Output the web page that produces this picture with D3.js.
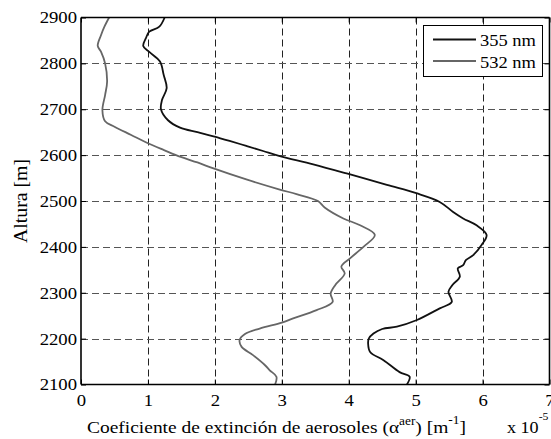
<!DOCTYPE html>
<html>
<head>
<meta charset="utf-8">
<script src="https://cdn.jsdelivr.net/npm/d3@7"></script>
<style>
  html, body { margin: 0; padding: 0; background: #fff; }
  svg { display: block; }
</style>
</head>
<body>
<svg id="chart" width="551" height="439"></svg>
<script>
// ---- Data ----
const seriesNames = ["355 nm", "532 nm"];
const xTicks = [0, 1, 2, 3, 4, 5, 6, 7];
const yTicks = [2100, 2200, 2300, 2400, 2500, 2600, 2700, 2800, 2900];

const alt355 = [2900, 2880, 2869, 2855, 2838, 2825, 2804, 2775, 2746, 2720, 2700, 2676, 2660, 2650, 2641, 2631, 2620, 2609, 2598, 2580, 2560, 2535, 2517, 2498, 2476, 2462, 2447, 2426, 2404, 2382, 2371, 2360, 2353, 2335, 2317, 2302, 2280, 2266, 2240, 2226, 2221, 2211, 2200, 2189, 2171, 2153, 2127, 2117, 2100];
const ext355 = [1.25, 1.17, 1.02, 0.97, 0.93, 1.02, 1.18, 1.235, 1.28, 1.21, 1.195, 1.30, 1.48, 1.74, 1.98, 2.22, 2.47, 2.72, 2.97, 3.47, 3.97, 4.57, 5.01, 5.36, 5.56, 5.71, 5.91, 6.06, 5.985, 5.86, 5.75, 5.71, 5.63, 5.66, 5.55, 5.49, 5.54, 5.36, 5.01, 4.72, 4.50, 4.37, 4.30, 4.29, 4.32, 4.52, 4.76, 4.91, 4.87];

const alt532 = [2900, 2880, 2862, 2838, 2825, 2800, 2760, 2731, 2698, 2674, 2662, 2644, 2626, 2611, 2596, 2584, 2571, 2547, 2525, 2515, 2500, 2486, 2462, 2447, 2426, 2400, 2375, 2357, 2342, 2317, 2298, 2280, 2262, 2244, 2235, 2222, 2210, 2197, 2182, 2164, 2142, 2131, 2117, 2100];
const ext532 = [0.42, 0.35, 0.30, 0.25, 0.30, 0.36, 0.39, 0.36, 0.32, 0.36, 0.50, 0.75, 1.00, 1.24, 1.49, 1.74, 1.98, 2.47, 2.97, 3.22, 3.54, 3.64, 3.92, 4.17, 4.39, 4.22, 4.02, 3.89, 3.94, 3.80, 3.73, 3.76, 3.52, 3.17, 3.00, 2.67, 2.45, 2.37, 2.40, 2.57, 2.75, 2.82, 2.92, 2.90];

// ---- Layout ----
const FONT = "'Liberation Serif'";
const SX = 1.1; // horizontal glyph stretch of the reference image
const svg = d3.select("#chart");
const L = 81, R = 549.5, T = 17.5, B = 384.5;
const x = d3.scaleLinear().domain([0, 7]).range([L, R]);
const y = d3.scaleLinear().domain([2100, 2900]).range([B, T]);

function fitWidth(sel, target, anchorX) {
  const w = sel.node().getBBox().width;
  const s = target / w;
  sel.attr("transform", `translate(${anchorX},0) scale(${s},1) translate(${-anchorX},0)`);
}

// grid
const grid = svg.append("g");
grid.selectAll("line.vg").data(xTicks.slice(1, -1)).enter().append("line")
  .attr("x1", d => Math.round(x(d)) + 0.5).attr("x2", d => Math.round(x(d)) + 0.5)
  .attr("y1", T).attr("y2", B)
  .attr("stroke", "#222").attr("stroke-width", 1).attr("stroke-dasharray", "7,4");
grid.selectAll("line.hg").data(yTicks.slice(1, -1)).enter().append("line")
  .attr("y1", d => Math.round(y(d)) + 0.5).attr("y2", d => Math.round(y(d)) + 0.5)
  .attr("x1", L).attr("x2", R)
  .attr("stroke", "#555").attr("stroke-width", 1.2).attr("stroke-dasharray", "7,4");

// curves
const line = d3.line().x(d => x(d[0])).y(d => y(d[1])).curve(d3.curveCatmullRom.alpha(0.5));
const d355 = ext355.map((v, i) => [v, alt355[i]]);
const d532 = ext532.map((v, i) => [v, alt532[i]]);
svg.append("path").datum(d532).attr("d", line)
  .attr("fill", "none").attr("stroke", "#666").attr("stroke-width", 1.8);
svg.append("path").datum(d355).attr("d", line)
  .attr("fill", "none").attr("stroke", "#111").attr("stroke-width", 1.8);

// axes (MATLAB-style box with inward ticks)
const fs = 17;
const axB = d3.axisBottom(x).tickValues(xTicks).tickSize(-5).tickPadding(9.5).tickFormat(d3.format("d"));
const axT = d3.axisTop(x).tickValues(xTicks).tickSize(-5).tickFormat("");
const axLft = d3.axisLeft(y).tickValues(yTicks).tickSize(-5).tickPadding(4).tickFormat(d3.format("d"));
const axRt = d3.axisRight(y).tickValues(yTicks).tickSize(-5).tickFormat("");

function style(g) {
  g.attr("font-family", null).attr("font-size", null);
  g.select(".domain").attr("stroke", "#000").attr("stroke-width", 1.6);
  g.selectAll(".tick line").attr("stroke", "#000");
  g.selectAll(".tick text").style("font-family", FONT).style("font-size", fs + "px").attr("fill", "#000");
}
svg.append("g").attr("transform", `translate(0,${B})`).call(axB).call(style)
  .call(g => g.select(".domain").attr("d", `M${L},0H${R}`))
  .call(g => g.selectAll(".tick text").attr("transform", `scale(${SX},1)`));
svg.append("g").attr("transform", `translate(0,${T})`).call(axT).call(style)
  .call(g => g.select(".domain").attr("d", `M${L},0H${R}`));
svg.append("g").attr("transform", `translate(${L},0)`).call(axLft).call(style)
  .call(g => g.select(".domain").attr("d", `M0,${T}V${B}`))
  .call(g => g.selectAll(".tick text").attr("x", -4 / SX).attr("transform", `scale(${SX},1)`));
svg.append("g").attr("transform", `translate(${R},0)`).call(axRt).call(style)
  .call(g => g.select(".domain").attr("d", `M0,${T}V${B}`));

// y label
svg.append("text").attr("transform", `translate(21,${(T + B) / 2}) rotate(-90)`)
  .attr("text-anchor", "middle").attr("dominant-baseline", "central")
  .style("font-family", FONT).style("font-size", "18px")
  .attr("textLength", 84).attr("lengthAdjust", "spacingAndGlyphs")
  .text("Altura [m]");

// x label
const xl = svg.append("text").attr("x", 87).attr("y", 433)
  .style("font-family", FONT).style("font-size", "17.5px");
xl.append("tspan").text("Coeficiente de extinción de aerosoles (α");
xl.append("tspan").attr("dy", -8).style("font-size", "12px").text("aer");
xl.append("tspan").attr("dy", 8).text(") [m");
xl.append("tspan").attr("dy", -9).style("font-size", "12px").text("-1");
xl.append("tspan").attr("dy", 9).text("]");
fitWidth(xl, 379, 87);

const xm = svg.append("text").attr("x", 507).attr("y", 433)
  .style("font-family", FONT).style("font-size", "17px");
xm.append("tspan").text("x 10");
xm.append("tspan").attr("dy", -13).style("font-size", "11px").text("-5");
fitWidth(xm, 42, 507);

// legend
const lg = svg.append("g");
lg.append("rect").attr("x", 423.5).attr("y", 25.5).attr("width", 119).attr("height", 51)
  .attr("fill", "#fff").attr("stroke", "#000").attr("stroke-width", 1);
const legColors = ["#111", "#666"];
seriesNames.forEach((name, i) => {
  const ly = 39.5 + i * 21.5;
  lg.append("line").attr("x1", 433).attr("x2", 476).attr("y1", ly).attr("y2", ly)
    .attr("stroke", legColors[i]).attr("stroke-width", 1.8);
  const t = lg.append("text").attr("x", 480).attr("y", ly + 7)
    .style("font-family", FONT).style("font-size", "17px").text(name);
  fitWidth(t, 56, 480);
});
</script>
</body>
</html>
